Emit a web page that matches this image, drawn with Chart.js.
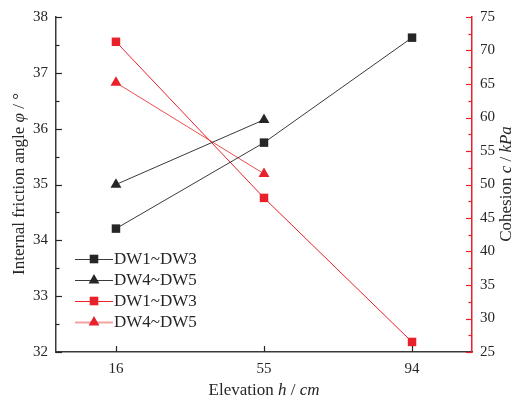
<!DOCTYPE html>
<html>
<head>
<meta charset="utf-8">
<script src="https://cdn.jsdelivr.net/npm/chart.js@4.4.0/dist/chart.umd.min.js"></script>
<style>
    html, body { margin: 0; padding: 0; background: #fff; }
    #wrap { width: 517px; height: 401px; }
</style>
</head>
<body>
<div id="wrap"><canvas id="chart" width="517" height="401"></canvas></div>
<script>
// ================= DATA =================

const elevations = [16, 55, 94];
const frictionDW13 = [34.21, 35.75, 37.63];
const frictionDW45 = [35.0, 36.16];
const cohesionDW13 = [71.3, 48.0, 26.5];
const cohesionDW45 = [65.2, 51.6];
const seriesLabels = ['DW1~DW3', 'DW4~DW5', 'DW1~DW3', 'DW4~DW5'];
const frictionTicks = [32, 33, 34, 35, 36, 37, 38];
const cohesionTicks = [25, 30, 35, 40, 45, 50, 55, 60, 65, 70, 75];

const SERIF = '"Liberation Serif", "Times New Roman", serif';
const INK = '#262626';
const RED = '#e8212b';
const PINK = '#ef4d4d';

const toPoints = (xs, ys) => ys.map((y, i) => ({ x: xs[i], y }));

// ================= HELPERS =================

function drawMixed(ctx, parts, x, y, rotate) {
    ctx.save();
    ctx.translate(x, y);
    if (rotate) ctx.rotate(-Math.PI / 2);
    ctx.textBaseline = 'middle';
    ctx.fillStyle = INK;
    let total = 0;
    parts.forEach(p => {
        ctx.font = (p.i ? 'italic ' : '') + '17px ' + SERIF;
        total += ctx.measureText(p.t).width;
    });
    let cx = -total / 2;
    parts.forEach(p => {
        ctx.font = (p.i ? 'italic ' : '') + '17px ' + SERIF;
        ctx.fillText(p.t, cx, 0);
        cx += ctx.measureText(p.t).width;
    });
    ctx.restore();
}

function drawMarker(ctx, style, x, y, color) {
    ctx.save();
    ctx.fillStyle = color;
    ctx.beginPath();
    if (style === 'rect') {
        ctx.rect(x - 4.3, y - 4.3, 8.6, 8.6);
    } else {
        ctx.moveTo(x, y - 6);
        ctx.lineTo(x + 5.4, y + 3.4);
        ctx.lineTo(x - 5.4, y + 3.4);
        ctx.closePath();
    }
    ctx.fill();
    ctx.restore();
}

// ================= PLUGIN: ticks, titles, legend =================

const decorations = {
    id: 'decorations',
    afterDraw(chart) {
        const ctx = chart.ctx;
        const area = chart.chartArea;
        const x = chart.scales.x, y = chart.scales.y, y1 = chart.scales.y1;

        ctx.save();
        ctx.lineWidth = 1.2;

        // left axis ticks (inward)
        ctx.strokeStyle = INK;
        for (let v = 32; v <= 38; v += 0.5) {
            const py = Math.round(y.getPixelForValue(v)) + 0.5;
            const len = Number.isInteger(v) ? 6 : 3.5;
            ctx.beginPath();
            ctx.moveTo(area.left, py);
            ctx.lineTo(area.left + len, py);
            ctx.stroke();
        }

        // bottom ticks
        elevations.forEach(v => {
            const px = Math.round(x.getPixelForValue(v)) + 0.5;
            ctx.beginPath();
            ctx.moveTo(px, area.bottom);
            ctx.lineTo(px, area.bottom - 6);
            ctx.stroke();
        });

        // right axis ticks (inward, red)
        ctx.strokeStyle = RED;
        for (let v = 25; v <= 75; v += 2.5) {
            const py = Math.round(y1.getPixelForValue(v)) + 0.5;
            const len = v % 5 === 0 ? 6 : 3.5;
            ctx.beginPath();
            ctx.moveTo(area.right, py);
            ctx.lineTo(area.right - len, py);
            ctx.stroke();
        }
        ctx.restore();

        // axis titles
        drawMixed(ctx, [
            { t: 'Internal friction angle ' }, { t: 'φ', i: true }, { t: ' / °' }
        ], 20, 184, true);
        drawMixed(ctx, [
            { t: 'Cohesion ' }, { t: 'c', i: true }, { t: ' / ' }, { t: 'kPa', i: true }
        ], 507, 184, true);
        drawMixed(ctx, [
            { t: 'Elevation ' }, { t: 'h', i: true }, { t: ' / ' }, { t: 'cm', i: true }
        ], 264, 391, false);

        // legend
        const legendStyles = [
            { color: '#3a3a3a', marker: INK, style: 'rect' },
            { color: '#3a3a3a', marker: INK, style: 'triangle' },
            { color: RED, marker: RED, style: 'rect' },
            { color: '#f4a3a3', marker: RED, style: 'triangle' }
        ];
        legendStyles.forEach((s, i) => {
            const ly = 259 + i * 21;
            ctx.save();
            ctx.strokeStyle = s.color;
            ctx.lineWidth = i === 3 ? 2 : 1.2;
            ctx.beginPath();
            ctx.moveTo(75, ly + 0.5);
            ctx.lineTo(113, ly + 0.5);
            ctx.stroke();
            ctx.restore();
            drawMarker(ctx, s.style, 94, ly, s.marker);
            ctx.save();
            ctx.fillStyle = INK;
            ctx.font = '17px ' + SERIF;
            ctx.textBaseline = 'middle';
            ctx.fillText(seriesLabels[i], 114, ly + 1);
            ctx.restore();
        });
    }
};

// ================= CHART =================

function buildChart() {
    const ctx = document.getElementById('chart');

    new Chart(ctx, {
        type: 'line',
        data: {
            datasets: [
                {
                    label: seriesLabels[0],
                    data: toPoints(elevations, frictionDW13),
                    yAxisID: 'y',
                    borderColor: '#3a3a3a',
                    backgroundColor: INK,
                    borderWidth: 1,
                    pointStyle: 'rect',
                    pointRadius: 6,
                    pointBorderWidth: 0
                },
                {
                    label: seriesLabels[1],
                    data: toPoints(elevations, frictionDW45),
                    yAxisID: 'y',
                    borderColor: '#3a3a3a',
                    backgroundColor: INK,
                    borderWidth: 1,
                    pointStyle: 'triangle',
                    pointRadius: 6.3,
                    pointBorderWidth: 0
                },
                {
                    label: seriesLabels[2],
                    data: toPoints(elevations, cohesionDW13),
                    yAxisID: 'y1',
                    borderColor: RED,
                    backgroundColor: RED,
                    borderWidth: 1,
                    pointStyle: 'rect',
                    pointRadius: 6,
                    pointBorderWidth: 0
                },
                {
                    label: seriesLabels[3],
                    data: toPoints(elevations, cohesionDW45),
                    yAxisID: 'y1',
                    borderColor: PINK,
                    backgroundColor: RED,
                    borderWidth: 1,
                    pointStyle: 'triangle',
                    pointRadius: 6.3,
                    pointBorderWidth: 0
                }
            ]
        },
        options: {
            responsive: false,
            devicePixelRatio: 1,
            animation: false,
            layout: { padding: { top: 16, left: 0, right: 0, bottom: 0 } },
            plugins: { legend: { display: false }, tooltip: { enabled: false } },
            scales: {
                x: {
                    type: 'linear',
                    min: 0.2,
                    max: 109.8,
                    afterBuildTicks: scale => { scale.ticks = elevations.map(v => ({ value: v })); },
                    afterFit: scale => { scale.height = 49; },
                    grid: { display: false, drawTicks: false },
                    border: { display: true, color: '#3a3a3a', width: 1.5 },
                    ticks: {
                        padding: 8,
                        color: INK,
                        font: { family: SERIF, size: 15 },
                        maxRotation: 0,
                        callback: v => String(v)
                    }
                },
                y: {
                    position: 'left',
                    min: 32,
                    max: 38,
                    afterBuildTicks: scale => { scale.ticks = frictionTicks.map(v => ({ value: v })); },
                    afterFit: scale => { scale.width = 56; },
                    grid: { display: false, drawTicks: false },
                    border: { display: true, color: '#3a3a3a', width: 1.5 },
                    ticks: {
                        padding: 8,
                        color: INK,
                        font: { family: SERIF, size: 15 }
                    }
                },
                y1: {
                    position: 'right',
                    min: 25,
                    max: 75,
                    afterBuildTicks: scale => { scale.ticks = cohesionTicks.map(v => ({ value: v })); },
                    afterFit: scale => { scale.width = 45; },
                    grid: { display: false, drawTicks: false },
                    border: { display: true, color: RED, width: 1.5 },
                    ticks: {
                        padding: 8,
                        color: INK,
                        font: { family: SERIF, size: 15 }
                    }
                }
            }
        },
        plugins: [decorations]
    });
}

document.addEventListener('DOMContentLoaded', buildChart);
</script>
</body>
</html>
